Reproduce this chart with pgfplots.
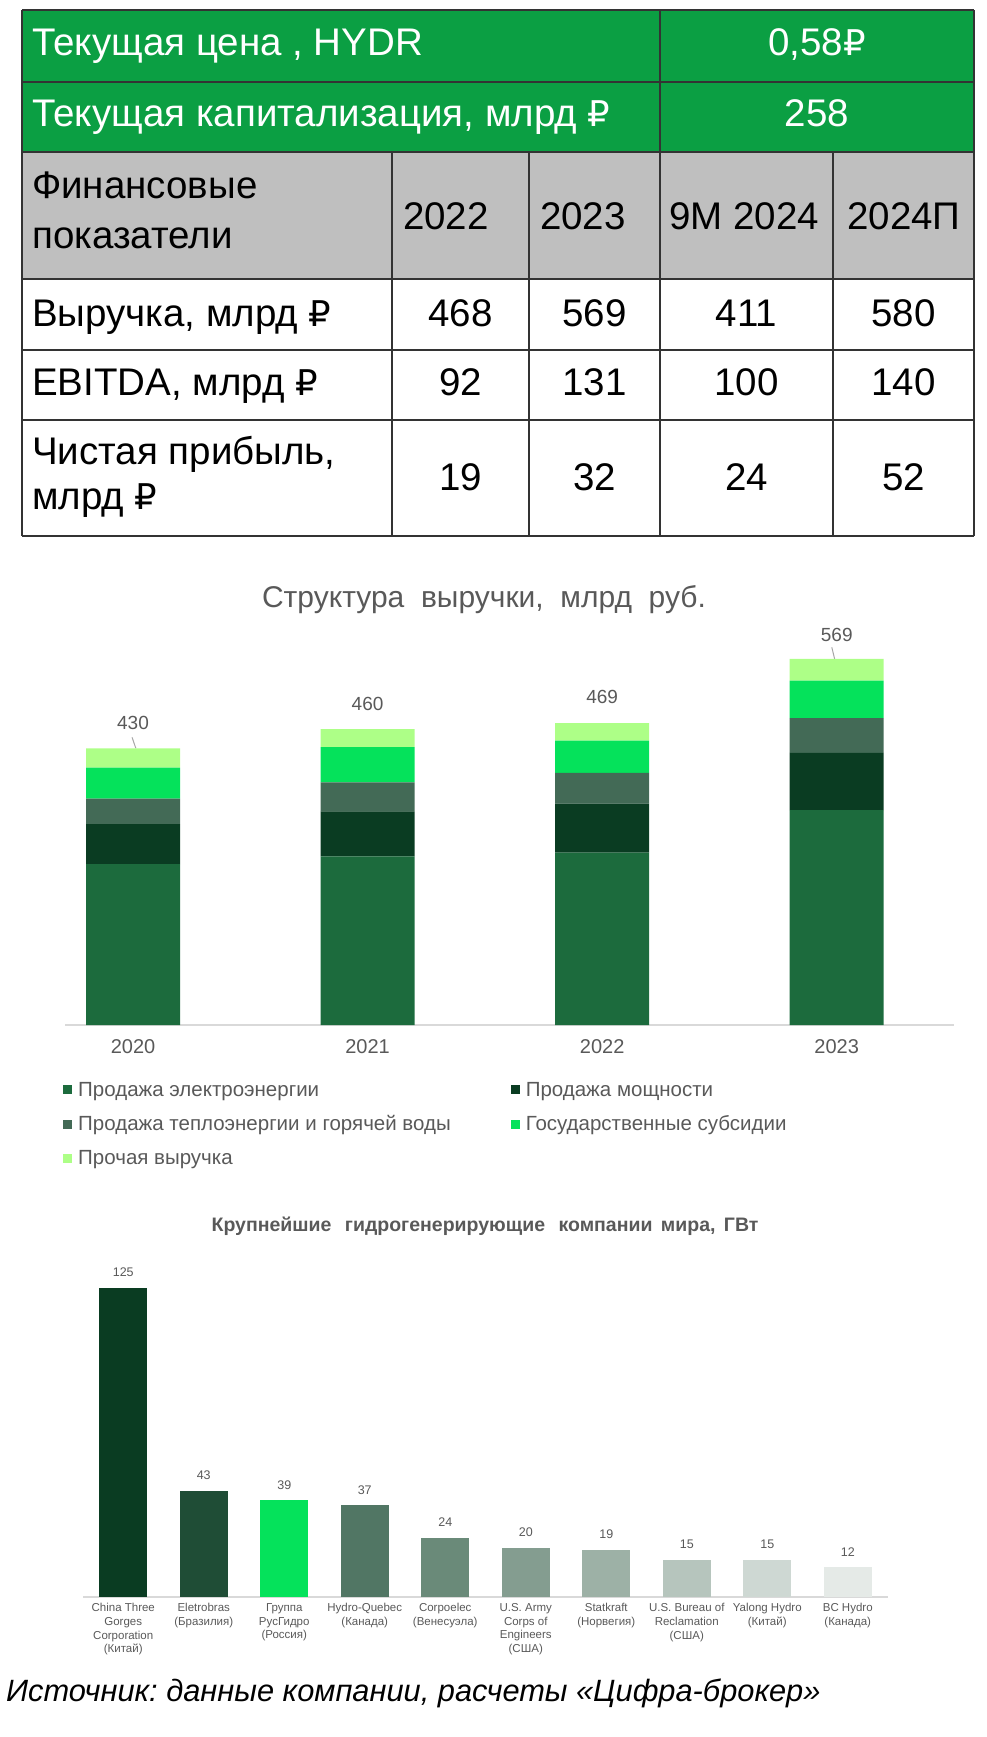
\documentclass[border=0pt]{standalone}
\usepackage{fontspec}
\setmainfont{Liberation Sans}
\newfontfamily\rubfont[Scale=0.92]{DejaVu Sans}
\usepackage{pgfplots}
\pgfplotsset{compat=1.18}

\definecolor{tgreen}{HTML}{0B9F43}
\definecolor{tgray}{HTML}{BFBFBF}
\definecolor{tline}{HTML}{333333}
\definecolor{txtgray}{HTML}{595959}
\definecolor{axgray}{HTML}{D9D9D9}
% revenue structure
\definecolor{elec}{HTML}{1C6B3D}
\definecolor{cap}{HTML}{0A3C22}
\definecolor{heat}{HTML}{436A56}
\definecolor{subs}{HTML}{05E25B}
\definecolor{other}{HTML}{ADFF87}
% hydro companies
\definecolor{b1}{HTML}{0A3C22}
\definecolor{b2}{HTML}{1F4D36}
\definecolor{b3}{HTML}{05E25B}
\definecolor{b4}{HTML}{517664}
\definecolor{b5}{HTML}{6A8A79}
\definecolor{b6}{HTML}{849D90}
\definecolor{b7}{HTML}{9DB1A6}
\definecolor{b8}{HTML}{B6C5BD}
\definecolor{b9}{HTML}{CED8D3}
\definecolor{b10}{HTML}{E5EAE7}

\newcommand{\setfs}[2]{\fontsize{#1}{#2}\selectfont}
\newcommand{\rub}{{\rubfont ₽}}
\frenchspacing

\begin{document}
\begin{tikzpicture}
\path[use as bounding box] (0pt,0pt) rectangle (987pt,-1737pt);

% ---------- table ----------
\begin{scope}[x=1pt,y=-1pt, every node/.style={inner sep=0pt, font=\setfs{38.5}{44}}]
\fill[tgreen] (22,10) rectangle (974,152);
\fill[tgray] (22,152) rectangle (974,279);
\foreach \yy in {10,82,152,279,350,420,536}
  \draw[tline, line width=1.8pt] (22,\yy) -- (974,\yy);
\foreach \xx in {22,660,974}
  \draw[tline, line width=1.8pt] (\xx,10) -- (\xx,536);
\foreach \xx in {392,529,833}
  \draw[tline, line width=1.8pt] (\xx,152) -- (\xx,536);

\node[anchor=base west, text=white] at (32,56) {Текущая цена , HYDR};
\node[anchor=base, text=white] at (817,56) {0,58\rub};
\node[anchor=base west, text=white] at (32,126) {Текущая капитализация, млрд \rub};
\node[anchor=base, text=white] at (817,126) {258};

\node[anchor=base west] at (32,198) {Финансовые};
\node[anchor=base west] at (32,248) {показатели};
\node[anchor=base] at (446,229) {2022};
\node[anchor=base] at (583,229) {2023};
\node[anchor=base] at (744,229) {9M 2024};
\node[anchor=base] at (904,229) {2024П};

\node[anchor=base west] at (32,326) {Выручка, млрд \rub};
\node[anchor=base] at (460.5,326) {468};
\node[anchor=base] at (594.5,326) {569};
\node[anchor=base] at (746.5,326) {411};
\node[anchor=base] at (903.5,326) {580};

\node[anchor=base west] at (32,395) {EBITDA, млрд \rub};
\node[anchor=base] at (460.5,395) {92};
\node[anchor=base] at (594.5,395) {131};
\node[anchor=base] at (746.5,395) {100};
\node[anchor=base] at (903.5,395) {140};

\node[anchor=base west] at (32,464) {Чистая прибыль,};
\node[anchor=base west] at (32,509) {млрд \rub};
\node[anchor=base] at (460.5,490) {19};
\node[anchor=base] at (594.5,490) {32};
\node[anchor=base] at (746.5,490) {24};
\node[anchor=base] at (903.5,490) {52};
\end{scope}

% ---------- revenue structure ----------
\node[anchor=base, inner sep=0pt, text=txtgray, font=\setfs{30}{36}] at (484pt,-607pt)
  {Структура\ \ выручки,\ \ млрд\ \ руб.};

\begin{axis}[
  at={(65pt,-1025pt)}, anchor=south west, scale only axis,
  width=889pt, height=386.1pt,
  xmin=-0.29, xmax=3.5, ymin=0, ymax=600,
  ybar stacked, bar width=94pt,
  axis x line=bottom, axis y line=none,
  x axis line style={-, draw=axgray, line width=1.5pt},
  xtick={0,1,2,3}, xticklabels={2020,2021,2022,2023},
  major tick length=0pt,
  xticklabel style={font=\setfs{20}{24}, text=txtgray, yshift=-11pt},
  clip=false,
  legend columns=2, legend cell align=left,
  legend image code/.code={\fill[#1] (0pt,-4.5pt) rectangle (9pt,4.5pt);},
  legend style={at={(-0.0056,-0.137)}, anchor=north west, draw=none, fill=none,
    font=\setfs{20.5}{24}, text=txtgray, row sep=14pt, column sep=4pt,
    /tikz/column 2/.style={column sep=58pt}},
]
\addplot[fill=elec, draw=none] coordinates {(0,250) (1,262) (2,268) (3,334)};
\addplot[fill=cap, draw=none] coordinates {(0,62) (1,70) (2,76) (3,89)};
\addplot[fill=heat, draw=none] coordinates {(0,40) (1,45) (2,48) (3,54)};
\addplot[fill=subs, draw=none] coordinates {(0,48) (1,55) (2,50) (3,58)};
\addplot[fill=other, draw=none, nodes near coords, point meta=explicit symbolic,
  every node near coord/.append style={font=\setfs{19}{22}, text=txtgray, anchor=base, inner sep=0pt, yshift=28pt}]
  coordinates {(0,30) [430] (1,28) [460] (2,27) [469] (3,34) [569]};
\draw[gray!70, line width=1pt] (axis cs:-0.004,447) -- (axis cs:0.012,430);
\draw[gray!70, line width=1pt] (axis cs:2.979,587) -- (axis cs:2.991,569);
\legend{Продажа электроэнергии, Продажа мощности, Продажа теплоэнергии и горячей воды, Государственные субсидии, Прочая выручка}
\end{axis}

% ---------- largest hydro companies ----------
\node[anchor=base, inner sep=0pt, text=txtgray, font=\bfseries\setfs{19.5}{22}] at (485pt,-1231pt)
  {Крупнейшие\hspace{8pt} гидрогенерирующие\hspace{8pt} компании\hspace{3pt} мира,\hspace{3pt} ГВт};

\begin{axis}[
  at={(83pt,-1597pt)}, anchor=south west, scale only axis,
  width=805pt, height=321.75pt,
  xmin=-0.5, xmax=9.5, ymin=0, ymax=130,
  ybar, bar width=48pt,
  axis x line=bottom, axis y line=none,
  x axis line style={-, draw=axgray, line width=1.5pt},
  xtick={0,...,9},
  xticklabels={{China Three\\Gorges\\Corporation\\(Китай)}, {Eletrobras\\(Бразилия)},
    {Группа\\РусГидро\\(Россия)}, {Hydro-Quebec\\(Канада)}, {Corpoelec\\(Венесуэла)},
    {U.S. Army\\Corps of\\Engineers\\(США)}, {Statkraft\\(Норвегия)},
    {U.S. Bureau of\\Reclamation\\(США)}, {Yalong Hydro\\(Китай)}, {BC Hydro\\(Канада)}},
  major tick length=0pt,
  xticklabel style={font=\setfs{11.5}{13.7}, align=center, text=txtgray, yshift=-3pt},
  /pgf/number format/assume math mode=true,
  nodes near coords,
  every node near coord/.append style={font=\setfs{12.5}{15}, text=txtgray, anchor=base, inner sep=0pt, yshift=11pt},
  clip=false,
]
\addplot[fill=b1, draw=none, bar shift=0pt] coordinates {(0,125)};
\addplot[fill=b2, draw=none, bar shift=0pt] coordinates {(1,43)};
\addplot[fill=b3, draw=none, bar shift=0pt] coordinates {(2,39)};
\addplot[fill=b4, draw=none, bar shift=0pt] coordinates {(3,37)};
\addplot[fill=b5, draw=none, bar shift=0pt] coordinates {(4,24)};
\addplot[fill=b6, draw=none, bar shift=0pt] coordinates {(5,20)};
\addplot[fill=b7, draw=none, bar shift=0pt] coordinates {(6,19)};
\addplot[fill=b8, draw=none, bar shift=0pt] coordinates {(7,15)};
\addplot[fill=b9, draw=none, bar shift=0pt] coordinates {(8,15)};
\addplot[fill=b10, draw=none, bar shift=0pt] coordinates {(9,12)};
\end{axis}

% ---------- source ----------
\node[anchor=base west, inner sep=0pt, font=\itshape\setfs{30.8}{36}] at (6pt,-1701pt)
  {Источник: данные компании, расчеты «Цифра-брокер»};
\end{tikzpicture}
\end{document}
